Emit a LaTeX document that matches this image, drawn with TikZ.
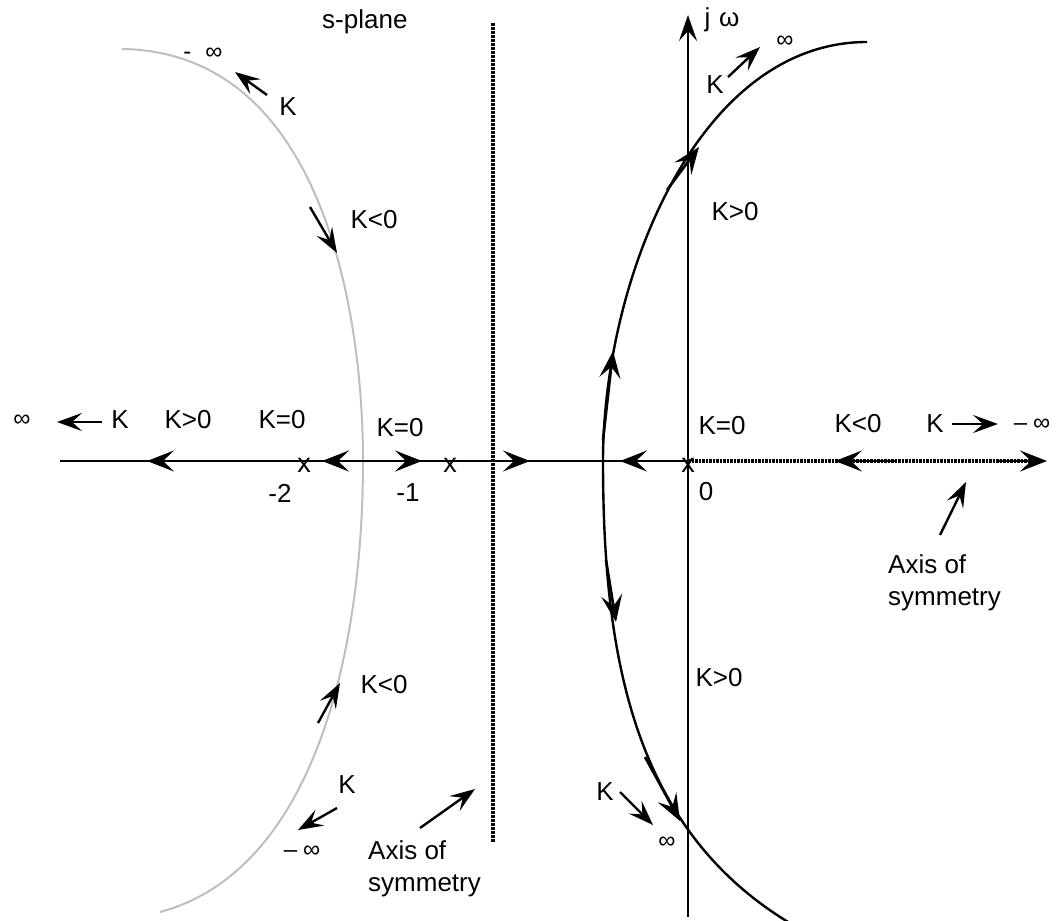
\documentclass[tikz,border=0pt]{standalone}
\usepackage{fontspec}
\setmainfont{Liberation Sans}
\usetikzlibrary{arrows.meta}
\tikzset{
  lbl/.style={inner sep=0pt, font=\fontsize{26}{30}\selectfont},
  sym/.style={inner sep=0pt, font=\fontsize{24}{28}\selectfont},
  pole/.style={inner sep=0pt, font=\fontsize{27}{30}\selectfont},
  axisline/.style={line width=2.6pt, line cap=butt},
  arr/.style={line width=2.6pt, -{Stealth[length=27pt,width=21pt,inset=11pt]}},
  karr/.style={line width=2.4pt, -{Stealth[length=25pt,width=18pt,inset=10pt]}},
  dotline/.style={line width=3.5pt, dash pattern=on 2.5pt off 1.5pt},
  locus/.style={line width=2.4pt},
  glocus/.style={line width=2pt, draw={rgb,255:red,190;green,190;blue,190}},
}
\begin{document}
\begin{tikzpicture}[x=1pt,y=-1pt]
\useasboundingbox (0,0) rectangle (1063,921);

% ---- coordinates ----
\coordinate (axL) at (60,461);
\coordinate (orig) at (688,461);
\coordinate (axR) at (1040,461);
\coordinate (yB) at (688,917);
\coordinate (yT) at (688,15);
\coordinate (vT) at (493,23);
\coordinate (vB) at (493,843);
\coordinate (brk) at (363,461);
\coordinate (bin) at (603,461);
\coordinate (gTop) at (122,49);
\coordinate (gBot) at (160,912);
\coordinate (bTop) at (867,42);
\coordinate (bBot) at (800,929);

% ---- loci ----
\draw[glocus] (gTop) .. controls (322,52) and (363,311) .. (brk)
                     .. controls (363,661) and (310,872) .. (gBot);
\draw[locus] (bTop) .. controls (697,42) and (603,281) .. (bin)
                    .. controls (603,661) and (634.7,835.9) .. (bBot);

% ---- axes ----
\draw[dotline] (vT) -- (vB);
\draw[dotline, line width=3.2pt, dash pattern=on 2.5pt off 1pt] (orig) -- (axR);
\draw[axisline] (axL) -- (orig);
\draw[line width=2pt, -{Stealth[length=26pt,width=18pt,inset=10pt]}] (yB) -- (yT);

% ---- arrows on real axis ----
\coordinate (a1s) at (200,461); \coordinate (a1e) at (147,461);
\coordinate (a2e) at (322,461); \coordinate (a3e) at (422,461);
\coordinate (a4s) at (493,461); \coordinate (a4e) at (530,461);
\coordinate (a5e) at (620,461);
\coordinate (a6s) at (895,461); \coordinate (a6e) at (835,461);
\coordinate (a7s) at (998,461); \coordinate (a7e) at (1047,461);
\draw[arr] (a1s) -- (a1e);
\draw[arr] (brk) -- (a2e);
\draw[arr] (brk) -- (a3e);
\draw[arr] (a4s) -- (a4e);
\draw[arr] (orig) -- (a5e);
\draw[arr] (a6s) -- (a6e);
\draw[arr] (a7s) -- (a7e);

% ---- arrows along black locus ----
\coordinate (c1s) at (603,440); \coordinate (c1e) at (613,351);
\coordinate (c2s) at (606,560); \coordinate (c2e) at (616,622);
\coordinate (c3s) at (667,190); \coordinate (c3e) at (699,147);
\coordinate (c4s) at (645,757); \coordinate (c4e) at (680,821);
\draw[arr] (c1s) -- (c1e);
\draw[arr] (c2s) -- (c2e);
\draw[arr] (c3s) -- (c3e);
\draw[arr] (c4s) -- (c4e);

% ---- arrows along grey locus ----
\coordinate (g1s) at (310,207); \coordinate (g1e) at (337,253);
\coordinate (g2s) at (318,723); \coordinate (g2e) at (340,683);
\draw[karr] (g1s) -- (g1e);
\draw[karr] (g2s) -- (g2e);

% ---- K arrows ----
\coordinate (k1s) at (267,95);  \coordinate (k1e) at (235,72);
\coordinate (k2s) at (337,808); \coordinate (k2e) at (298,830);
\coordinate (k3s) at (728,77);  \coordinate (k3e) at (760,47);
\coordinate (k4s) at (620,792); \coordinate (k4e) at (653,825);
\coordinate (k5s) at (102,422); \coordinate (k5e) at (57,422);
\coordinate (k6s) at (952,424); \coordinate (k6e) at (998,424);
\draw[karr] (k1s) -- (k1e);
\draw[karr] (k2s) -- (k2e);
\draw[karr] (k3s) -- (k3e);
\draw[karr] (k4s) -- (k4e);
\draw[karr] (k5s) -- (k5e);
\draw[karr] (k6s) -- (k6e);

% ---- axis of symmetry pointers ----
\coordinate (s1s) at (420,828); \coordinate (s1e) at (475,789);
\coordinate (s2s) at (940,535); \coordinate (s2e) at (966,482);
\draw[karr] (s1s) -- (s1e);
\draw[karr] (s2s) -- (s2e);

% ---- pole marks ----
\node[pole] (p2) at (304,465) {x};
\node[pole] (p1) at (450,465) {x};
\node[pole] (p0) at (688,465) {x};

% ---- labels ----
\node[lbl, anchor=west] (splane) at (322,22) {s-plane};
\node[lbl] (jw) at (722,20) {j\,\,ω};
\node[sym] (ninfTL) at (203,54) {-\hspace{14pt}∞};
\node[lbl] (kTL) at (288,107) {K};
\node[lbl] (kneg1) at (374,220) {K<0};
\node[sym] (infL) at (22,421) {∞};
\node[lbl] (kL) at (120,420) {K};
\node[lbl] (kpos1) at (188,420) {K>0};
\node[lbl] (kz1) at (282,420) {K=0};
\node[lbl] (kz2) at (400,428) {K=0};
\node[lbl] (m2) at (280,493) {-2};
\node[lbl] (m1) at (408,493) {-1};
\node[lbl] (z0) at (706,492) {0};
\node[lbl] (kz3) at (722,426) {K=0};
\node[lbl] (kneg2) at (858,424) {K<0};
\node[lbl] (kR) at (935,424) {K};
\node[sym] (ninfR) at (1032,425) {–\hspace{6pt}∞};
\node[lbl] (kpos2) at (735,212) {K>0};
\node[lbl] (kpos3) at (719,678) {K>0};
\node[lbl] (kTR) at (715,85) {K};
\node[sym] (infTR) at (785,42) {∞};
\node[lbl] (kneg3) at (384,685) {K<0};
\node[lbl] (kBL) at (347,785) {K};
\node[sym] (ninfBL) at (302,852) {–\hspace{6pt}∞};
\node[lbl] (kBR) at (605,792) {K};
\node[sym] (infBR) at (667,843) {∞};
\node[lbl, anchor=base west] (ax1a) at (368,859) {Axis of};
\node[lbl, anchor=base west] (ax1b) at (368,891) {symmetry};
\node[lbl, anchor=base west] (ax2a) at (888,573) {Axis of};
\node[lbl, anchor=base west] (ax2b) at (888,605) {symmetry};
\end{tikzpicture}
\end{document}
